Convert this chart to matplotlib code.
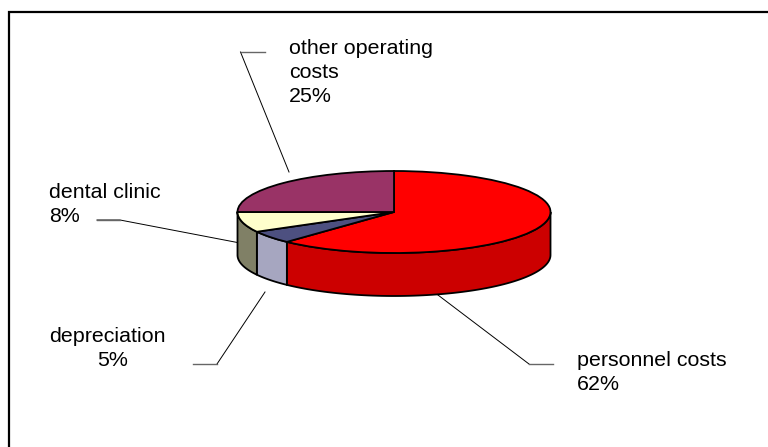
import numpy as np
import matplotlib
matplotlib.use("Agg")
import matplotlib.pyplot as plt

plt.rcParams['font.family'] = ['Liberation Sans', 'DejaVu Sans']

W, H = 768, 447

categories = ["personnel costs", "depreciation", "dental clinic", "other operating\ncosts"]
values = [62, 5, 8, 25]
top_colors = ["#FF0000", "#4D5080", "#FFFFCC", "#993366"]
side_colors = ["#CC0000", "#A6A6C0", "#808066", "#7A2952"]

# pie geometry in pixels
cx, cy = 394, 212
rx, ry = 156.5, 41
depth = 43

fig = plt.figure(figsize=(W / 100, H / 100), dpi=100)

# overlay in pixel coordinates for frame, leaders and labels
bg = fig.add_axes([0, 0, 1, 1])
bg.set_xlim(0, W)
bg.set_ylim(H, 0)
bg.axis("off")

bg.plot([9, 9, W], [H, 12, 12], color="black", lw=1.6, solid_joinstyle="miter")

leaders = [
    ([240.5, 289], [52, 172]),
    ([97, 120, 240], [220, 220, 243]),
    ([217, 265], [364, 292]),
    ([434, 529], [292, 364]),
]
stubs = [
    ([240.5, 264.5], [52, 52]),
    ([97, 120], [220, 220]),
    ([193, 217], [364, 364]),
    ([529, 553], [364, 364]),
]
for xs, ys in leaders:
    bg.plot(xs, ys, color="black", lw=0.7)
for xs, ys in stubs:
    bg.plot(xs, ys, color="#666666", lw=1.0)

# pie: axes covers the top ellipse plus the wall below it
ax = fig.add_axes([(cx - rx) / W, 1 - (cy + ry + depth) / H, 2 * rx / W, (2 * ry + depth) / H])
wedges, _ = ax.pie(values, colors=top_colors, startangle=90, counterclock=False, radius=1,
                   wedgeprops=dict(edgecolor="black", linewidth=1.3, clip_on=False))
ax.set_aspect("auto")
ax.set_xlim(-1, 1)
d = depth / ry
ax.set_ylim(-1 - d, 1)
ax.patch.set_alpha(0)

# side wall of each slice, only the front half of the ellipse shows
angles = 90 - np.cumsum([0] + values) * 3.6
for i in range(len(values)):
    a0, a1 = angles[i], angles[i + 1]
    lo, hi = max(a1, -180), min(a0, 0)
    if lo >= hi:
        continue
    t = np.radians(np.linspace(lo, hi, 80))
    x = np.cos(t)
    y = np.sin(t)
    ax.fill(np.r_[x, x[::-1]], np.r_[y, y[::-1] - d], facecolor=side_colors[i],
            edgecolor="black", linewidth=1.3, zorder=0.5, clip_on=False)

fs = 15.4
label_style = dict(fontsize=fs, color="black", va="center", ha="left")
bg.text(289, 49, "other operating", **label_style)
bg.text(289, 73, "costs", **label_style)
bg.text(289, 97, "25%", **label_style)
bg.text(49, 193, "dental clinic", **label_style)
bg.text(49, 217, "8%", **label_style)
bg.text(49, 337, "depreciation", **label_style)
bg.text(97, 361, "5%", **label_style)
bg.text(577, 361, "personnel costs", **label_style)
bg.text(577, 385, "62%", **label_style)

fig.savefig("out.png", dpi=100)
